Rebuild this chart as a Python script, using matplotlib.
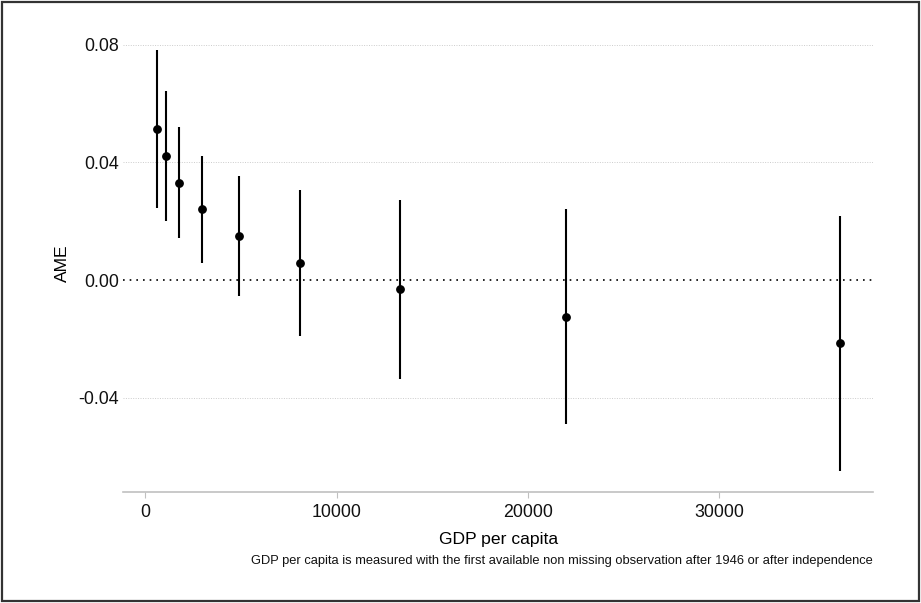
import matplotlib
matplotlib.use('Agg')
import matplotlib.pyplot as plt
from matplotlib.patches import Rectangle

plt.rcParams['font.family'] = ['Liberation Sans', 'DejaVu Sans']

# AME estimates by GDP per capita
gdp = [630, 1070, 1780, 2960, 4880, 8070, 13330, 22010, 36320]
ame = [0.0514, 0.0422, 0.0331, 0.0240, 0.0149, 0.0059, -0.0032, -0.0125, -0.0215]
ci_low = [0.0244, 0.0202, 0.0144, 0.0057, -0.0054, -0.0190, -0.0336, -0.0490, -0.0648]
ci_high = [0.0782, 0.0642, 0.0519, 0.0422, 0.0354, 0.0306, 0.0271, 0.0241, 0.0218]

xticks = [0, 10000, 20000, 30000]
yticks = [-0.04, 0.00, 0.04, 0.08]
ytick_labels = ['-0.04', '0.00', '0.04', '0.08']

fig = plt.figure(figsize=(9.21, 6.03), dpi=100)
ax = fig.add_axes([0.1339, 0.1846, 0.8143, 0.7590])

# grid lines (zero gets its own black dotted line)
for y in yticks:
    if y == 0:
        ax.axhline(y, color='black', linestyle=(0, (1, 3)), linewidth=1.2, zorder=1)
    else:
        ax.axhline(y, color='#cccccc', linestyle=(0, (1, 1.5)), linewidth=0.7, zorder=1)

ax.vlines(gdp, ci_low, ci_high, color='black', linewidth=1.5, zorder=2)
ax.plot(gdp, ame, 'o', color='black', markersize=5.3, zorder=3)

ax.set_xlim(-1150, 38056)
ax.set_ylim(-0.0719, 0.0836)
ax.set_xticks(xticks)
ax.set_xticklabels([str(t) for t in xticks])
ax.set_yticks(yticks)
ax.set_yticklabels(ytick_labels)

for side in ['top', 'right', 'left']:
    ax.spines[side].set_visible(False)
ax.spines['bottom'].set_color('#c0c0c0')
ax.spines['bottom'].set_linewidth(1.2)

ax.tick_params(axis='x', length=4.5, width=0.8, color='#c0c0c0', pad=4.5,
               labelsize=12.8, labelcolor='#111111')
ax.tick_params(axis='y', length=0, pad=3, labelsize=12.8, labelcolor='#111111')

ax.set_xlabel('GDP per capita', fontsize=12.6, labelpad=8)
ax.set_ylabel('AME', fontsize=12.6, labelpad=6)

fig.text(873 / 921, 1 - 561 / 603,
         'GDP per capita is measured with the first available non missing observation after 1946 or after independence',
         ha='right', va='center', fontsize=9.3, color='#111111')

# outer frame
fig.patches.append(Rectangle((0.002, 0.003), 0.996, 0.994, transform=fig.transFigure,
                             fill=False, edgecolor='#333333', linewidth=1.6))

plt.savefig('out.png', dpi=100)
plt.close()
